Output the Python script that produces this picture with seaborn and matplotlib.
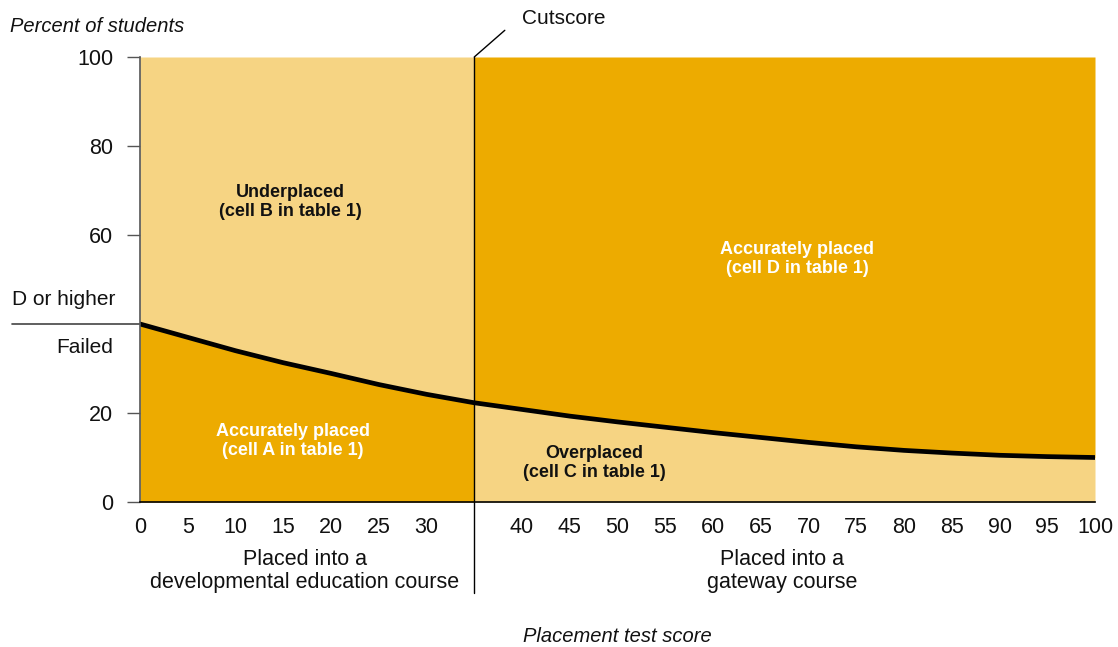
import matplotlib
matplotlib.use("Agg")
import numpy as np
import pandas as pd
import matplotlib.pyplot as plt
import seaborn as sns


# placement test score vs share of students failing the gateway course
scores = [0, 5, 10, 15, 20, 25, 30, 35, 40, 45, 50, 55, 60, 65, 70, 75, 80, 85, 90, 95, 100]
pct_failed = [40.0, 37.0, 34.0, 31.3, 28.9, 26.4, 24.2, 22.3, 20.8, 19.3, 18.0, 16.8, 15.6,
              14.5, 13.4, 12.4, 11.6, 11.0, 10.5, 10.2, 10.0]
cutscore = 35
x_ticks = [0, 5, 10, 15, 20, 25, 30, 40, 45, 50, 55, 60, 65, 70, 75, 80, 85, 90, 95, 100]
y_ticks = [0, 20, 60, 80, 100]

LIGHT = "#F6D483"
DARK = "#EDAB00"

sns.set_style("white", {"text.color": "black", "xtick.color": "black", "ytick.color": "black"})
plt.rcParams["font.family"] = ["Liberation Sans", "DejaVu Sans"]
narrow = ["Liberation Sans Narrow", "Liberation Sans", "DejaVu Sans"]

df = pd.DataFrame({"score": scores, "failed": pct_failed})
left = df[df["score"] <= cutscore]
right = df[df["score"] >= cutscore]

fig = plt.figure(figsize=(11.18, 6.47), dpi=100)
ax = fig.add_axes([140 / 1118, 1 - 502 / 647, 955 / 1118, 445 / 647])

# shaded regions
ax.fill_between(left["score"], 0, left["failed"], color=DARK, lw=0)
ax.fill_between(left["score"], left["failed"], 100, color=LIGHT, lw=0)
ax.fill_between(right["score"], 0, right["failed"], color=LIGHT, lw=0)
ax.fill_between(right["score"], right["failed"], 100, color=DARK, lw=0)

sns.lineplot(data=df, x="score", y="failed", color="black", linewidth=3.4, ax=ax)

ax.set_xlim(0, 100)
ax.set_ylim(0, 100)
ax.set_xlabel("")
ax.set_ylabel("")

# cutscore line, running below the axis and up to its label
ax.plot([cutscore, cutscore], [100, -20.5], color="black", lw=1, clip_on=False, zorder=5)
ax.plot([cutscore, 38.2], [100, 106], color="black", lw=1, clip_on=False, zorder=5)
fig.text(522 / 1118, 1 - 18 / 647, "Cutscore", fontsize=15, va="center", ha="left", color="#111111")

# axes styling
for s in ["top", "right"]:
    ax.spines[s].set_visible(False)
ax.spines["left"].set_color("#555555")
ax.spines["left"].set_linewidth(1.2)
ax.spines["bottom"].set_color("black")
ax.spines["bottom"].set_linewidth(1.2)

ax.set_yticks(y_ticks)
ax.set_yticklabels([str(v) for v in y_ticks], fontsize=15.5, color="#111111")
ax.tick_params(axis="y", length=9.4, width=1, color="#555555", pad=10, left=True)
ax.set_xticks(x_ticks)
ax.set_xticklabels([str(v) for v in x_ticks], fontsize=15.5, color="#111111")
ax.tick_params(axis="x", length=0, pad=11)

# pass/fail divider at 40
yt = ax.get_yaxis_transform()
ax.plot([-0.134, 0], [40, 40], transform=yt, color="#444444", lw=1.2, clip_on=False)
ax.text(-0.134, 45.6, "D or higher", transform=yt, fontsize=15, ha="left", va="center", color="#111111")
ax.text(-0.0283, 34.8, "Failed", transform=yt, fontsize=15, ha="right", va="center", color="#111111")

# cell labels
ax.text(15.7, 67.4, "Underplaced\n(cell B in table 1)", ha="center", va="center",
        fontsize=13, fontweight="bold", family=narrow, color="#111111", linespacing=1.15)
ax.text(16.0, 13.7, "Accurately placed\n(cell A in table 1)", ha="center", va="center",
        fontsize=13, fontweight="bold", family=narrow, color="white", linespacing=1.15)
ax.text(47.6, 8.8, "Overplaced\n(cell C in table 1)", ha="center", va="center",
        fontsize=13, fontweight="bold", family=narrow, color="#111111", linespacing=1.15)
ax.text(68.8, 54.6, "Accurately placed\n(cell D in table 1)", ha="center", va="center",
        fontsize=13, fontweight="bold", family=narrow, color="white", linespacing=1.15)

# group labels under the axis
fig.text(305 / 1118, 1 - 571 / 647, "Placed into a\ndevelopmental education course",
         ha="center", va="center", fontsize=15.5, linespacing=1.15, color="#111111")
fig.text(782 / 1118, 1 - 571 / 647, "Placed into a\ngateway course",
         ha="center", va="center", fontsize=15.5, linespacing=1.15, color="#111111")
fig.text(617 / 1118, 1 - 636 / 647, "Placement test score", ha="center", va="center",
         fontsize=14.5, style="italic", color="#111111")
fig.text(10 / 1118, 1 - 26 / 647, "Percent of students", ha="left", va="center",
         fontsize=14.5, style="italic", color="#111111")

fig.savefig("out.png", dpi=100)
